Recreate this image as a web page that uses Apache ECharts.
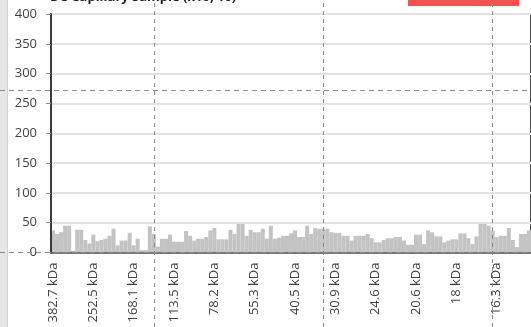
<!DOCTYPE html>
<html>
<head>
<meta charset="utf-8">
<script src="https://cdn.jsdelivr.net/npm/echarts@6/dist/echarts.min.js"></script>
<style>
html,body{margin:0;padding:0;background:#fff;}
#chart{width:531px;height:327px;}
</style>
</head>
<body>
<div id="chart"></div>
<script>
// tick labels shown every 10 bars on the category axis
const tickLabels = ['382.7 kDa','252.5 kDa','168.1 kDa','113.5 kDa','78.2 kDa','55.3 kDa','40.5 kDa','30.9 kDa','24.6 kDa','20.6 kDa','18 kDa','16.3 kDa'];
const labelStep = 10;
// bar heights
const values = [
37,31,34,45,45,1,38,38,21,15,
30,19,21,23,28,40,12,20,20,33,
12,23,4,4,44,31,10,23,23,30,
18,18,18,36,28,20,23,23,26,37,
41,22,22,22,38,31,48,48,28,38,
34,34,40,23,45,23,25,28,28,32,
37,26,26,45,31,41,40,40,40,34,
33,33,28,28,20,28,28,28,31,24,
17,17,21,24,24,26,26,20,13,13,
30,30,14,37,34,27,27,17,20,22,
22,32,32,24,14,27,51,51,45,37,
26,28,28,41,21,9,31,31,37
];
const yTicks = [0,50,100,150,200,250,300,350,400];
// dashed guide lines
const vGuideIdx = [25,67,109];
const hGuideVals = [272.5,0];
const titleText = 'DC Capillary Sample (x10, 10)';

const categories = values.map((v,i)=> i % labelStep === 0 ? (tickLabels[i/labelStep] || '') : '');

const FONT = 'Open Sans';
const chart = echarts.init(document.getElementById('chart'), null, {renderer:'canvas'});
const plotLeft = 51, plotTop = 14, plotH = 238.5, plotW = 481;

chart.setOption({
  animation:false,
  title:{text:titleText,left:45,top:-14,textStyle:{fontFamily:FONT,fontSize:13,fontWeight:'bold',color:'#222'}},
  graphic:[
    {type:'rect',shape:{x:0,y:0,width:7,height:327},style:{fill:'#e6e6e6'},z:-1},
    {type:'rect',shape:{x:7,y:0,width:1,height:327},style:{fill:'#d2d2d2'},z:-1},
    {type:'rect',shape:{x:408,y:0,width:111,height:6},style:{fill:'#f25252'}}
  ],
  grid:[
    {left:plotLeft,top:plotTop,width:plotW,height:plotH,show:true,borderColor:'#4d4d4d',borderWidth:2},
    {left:0,right:0,top:plotTop,height:plotH},
    {left:plotLeft,width:plotW,top:0,bottom:0}
  ],
  xAxis:[
    {gridIndex:0,type:'category',data:categories,z:3,
     axisLine:{lineStyle:{color:'#555',width:1.5}},
     axisTick:{interval:0,length:4,lineStyle:{color:'#777'}},
     axisLabel:{interval:0,rotate:90,margin:10,fontFamily:FONT,fontSize:13,color:'#404040'}},
    {gridIndex:1,type:'value',min:0,max:1,show:false},
    {gridIndex:2,type:'category',data:categories,show:false}
  ],
  yAxis:[
    {gridIndex:0,type:'value',min:0,max:400,interval:50,z:3,
     axisLine:{show:true,lineStyle:{color:'#3a3a3a',width:2}},
     axisTick:{show:true,length:5,lineStyle:{color:'#888'}},
     axisLabel:{margin:14,fontFamily:FONT,fontSize:13,color:'#404040',
       formatter:(v)=> yTicks.indexOf(v)>=0 ? String(v) : ''},
     splitLine:{lineStyle:{color:'#e2e2e2',width:2}}},
    {gridIndex:1,type:'value',min:0,max:400,show:false},
    {gridIndex:2,type:'value',min:0,max:1,show:false}
  ],
  series:[
    {type:'bar',xAxisIndex:0,yAxisIndex:0,data:values,barCategoryGap:'0%',barGap:'0%',
     itemStyle:{color:'#c3c3c3'},z:2},
    {type:'line',xAxisIndex:1,yAxisIndex:1,data:[[0,0]],symbol:'none',lineStyle:{opacity:0},z:1,
     markLine:{silent:true,symbol:'none',label:{show:false},
       lineStyle:{color:'#8a8a8a',type:[5,4],width:1},
       data:hGuideVals.map(v=>({yAxis:v}))}},
    {type:'line',xAxisIndex:2,yAxisIndex:2,data:[0],symbol:'none',lineStyle:{opacity:0},z:5,
     markLine:{silent:true,symbol:'none',label:{show:false},
       lineStyle:{color:'#8a8a8a',type:[4,4],width:1},
       data:vGuideIdx.map(i=>({xAxis:i}))}}
  ]
});
</script>
</body>
</html>
